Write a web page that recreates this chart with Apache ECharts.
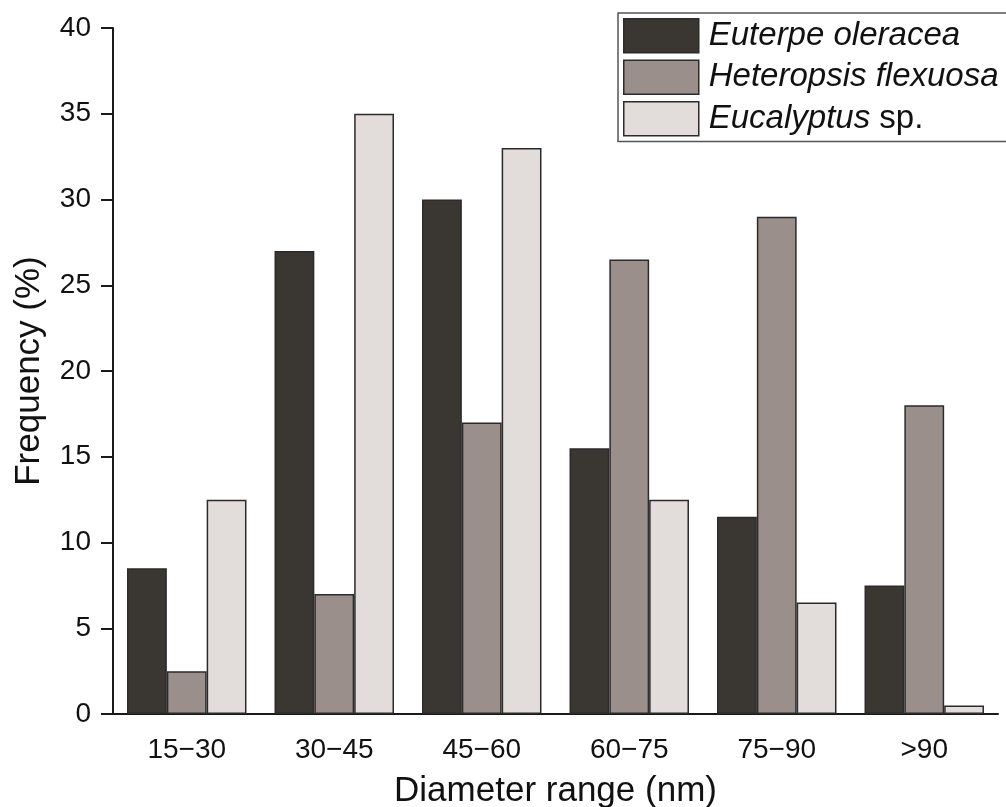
<!DOCTYPE html>
<html><head><meta charset="utf-8">
<script src="https://cdn.jsdelivr.net/npm/echarts@6/dist/echarts.min.js"></script>
<style>html,body{margin:0;padding:0;background:#fff}#c{width:1006px;height:807px}</style>
</head><body><div id="c"></div>
<script>
const categories = ['15\u221230','30\u221245','45\u221260','60\u221275','75\u221290','>90'];
const euterpe = [8.5, 27, 30, 15.5, 11.5, 7.5];
const heteropsis = [2.5, 7, 17, 26.5, 29, 18];
const eucalyptus = [12.5, 35, 33, 12.5, 6.5, 0.5];
const yTicks = [0, 5, 10, 15, 20, 25, 30, 35, 40];
const seriesNames = ['Euterpe oleracea', 'Heteropsis flexuosa', 'Eucalyptus sp.'];
const colors = ['#3a3632', '#9a8f8a', '#e2dcda'];

const font = 'Liberation Sans, Arial, sans-serif';
const chart = echarts.init(document.getElementById('c'));
function mk(name, data, color) {
  return {
    name, type: 'bar', data, barGap: '0%', barCategoryGap: '19%',
    itemStyle: { color, borderColor: '#2b2b2b', borderWidth: 1.5 }
  };
}
chart.setOption({
  animation: false,
  backgroundColor: '#fff',
  textStyle: { fontFamily: font },
  grid: { left: 113, right: 8, top: 28, bottom: 93, containLabel: false, outerBoundsMode: 'none' },
  legend: {
    left: 618, top: 13, orient: 'vertical',
    itemWidth: 75, itemHeight: 34, itemGap: 6,
    padding: [5, 60, 5, 5],
    borderColor: '#555', borderWidth: 1.5,
    icon: 'rect',
    itemStyle: { borderColor: '#2b2b2b', borderWidth: 1.5 },
    data: seriesNames,
    formatter: function (n) {
      if (n === 'Eucalyptus sp.') return '{i|Eucalyptus}{n| sp.}';
      return '{i|' + n + '}';
    },
    textStyle: {
      fontFamily: font, fontSize: 33, lineHeight: 34, color: '#111', padding: [0, 0, 0, 5],
      rich: {
        i: { fontStyle: 'italic', fontSize: 33, lineHeight: 34, fontFamily: font, color: '#111' },
        n: { fontSize: 33, lineHeight: 34, fontFamily: font, color: '#111' }
      }
    }
  },
  xAxis: {
    type: 'category', data: categories,
    name: 'Diameter range (nm)', nameLocation: 'middle', nameGap: 60,
    nameTextStyle: { fontSize: 35, color: '#111', fontFamily: font },
    axisLine: { lineStyle: { color: '#1a1a1a', width: 2 } },
    axisTick: { alignWithLabel: true, length: 12, lineStyle: { color: '#1a1a1a', width: 2 } },
    axisLabel: { fontSize: 28, color: '#111', margin: 22, fontFamily: font }
  },
  yAxis: {
    type: 'value', min: 0, max: 40, interval: 5,
    name: 'Frequency (%)', nameLocation: 'middle', nameGap: 66,
    nameTextStyle: { fontSize: 35, color: '#111', fontFamily: font },
    axisLine: { show: true, lineStyle: { color: '#1a1a1a', width: 2 } },
    axisTick: { show: true, length: 12, lineStyle: { color: '#1a1a1a', width: 2 } },
    splitLine: { show: false },
    axisLabel: { fontSize: 28, color: '#111', margin: 22, fontFamily: font,
      formatter: v => yTicks.includes(v) ? String(v) : '' }
  },
  series: [
    mk(seriesNames[0], euterpe, colors[0]),
    mk(seriesNames[1], heteropsis, colors[1]),
    mk(seriesNames[2], eucalyptus, colors[2])
  ]
});
</script></body></html>
